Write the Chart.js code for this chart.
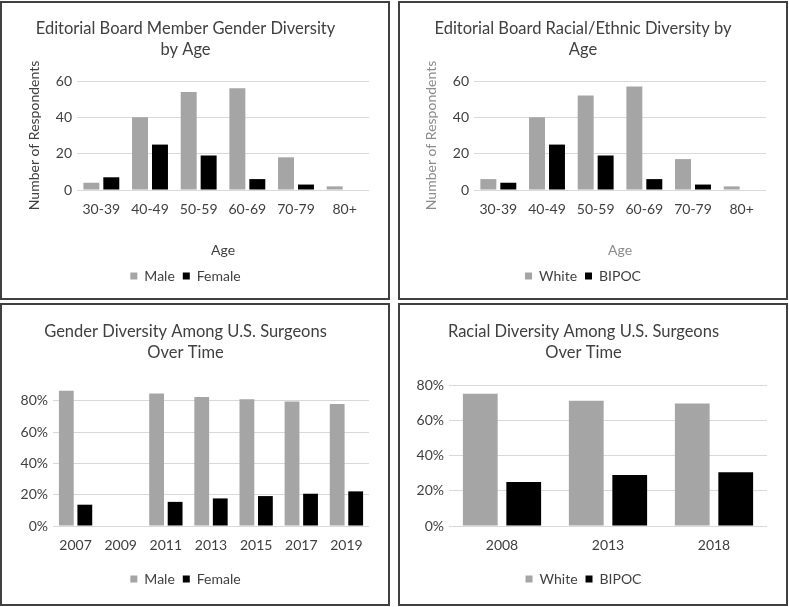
<!DOCTYPE html>
<html><head><meta charset="utf-8">
<script src="https://cdn.jsdelivr.net/npm/chart.js@4.4.1/dist/chart.umd.min.js"></script>
<style>
html,body{margin:0;padding:0;background:#fff;}
body{width:789px;height:607px;position:relative;overflow:hidden;}
.p{position:absolute;box-sizing:border-box;border:2px solid #404040;background:#fff;}
.p canvas{display:block;}
</style></head><body>
<div class="p" style="left:0;top:1px;width:390px;height:299px"><canvas id="c1" width="386" height="295"></canvas></div>
<div class="p" style="left:398px;top:1px;width:390px;height:299px"><canvas id="c2" width="386" height="295"></canvas></div>
<div class="p" style="left:0;top:303px;width:390px;height:303px"><canvas id="c3" width="386" height="299"></canvas></div>
<div class="p" style="left:398px;top:303px;width:390px;height:303px"><canvas id="c4" width="386" height="299"></canvas></div>
<script>
// ---- data ----
const ageCats = ['30-39','40-49','50-59','60-69','70-79','80+'];
const boardMale = [4,40,54,56,18,2];
const boardFemale = [7,25,19,6,3,0];
const boardWhite = [6,40,52,57,17,2];
const boardBIPOC = [4,25,19,6,3,0];
const genderYears = ['2007','2009','2011','2013','2015','2017','2019'];
const surgMale = [86.4,null,84.6,82.4,80.9,79.4,77.9];
const surgFemale = [13.6,null,15.4,17.6,19.1,20.6,22.1];
const raceYears = ['2008','2013','2018'];
const surgWhite = [75,71,69.5];
const surgBIPOC = [25,29,30.5];

const FF = 'Lato, "Open Sans", sans-serif';
const TXT = '#404040';
const GRAY = '#a5a5a5';
const BLACK = '#000000';

function build(id, o){
  const yScale = {
    min:0, max:o.yMax,
    ticks:{stepSize:o.yStep, font:{family:FF,size:14}, color:TXT, padding:5,
      callback:v=> o.pct ? v+'%' : v},
    grid:{color:'#d9d9d9', drawTicks:false},
    border:{display:false},
    afterFit:s=>{s.width=o.yW;},
    afterBuildTicks:s=>{ if(o.tickCap!==undefined){ s.ticks = s.ticks.filter(t=>t.value<=o.tickCap+1e-9); } }
  };
  if(o.yTitle){
    yScale.title={display:true,text:o.yTitle,font:{family:FF,size:14},color:o.axTitleColor||TXT,padding:{top:o.yTitlePad,bottom:0}};
  }
  const xScale = {
    grid:{display:false}, border:{display:false},
    ticks:{font:{family:FF,size:14}, color:TXT, padding:o.xPad},
    afterFit:s=>{s.height=o.xH;}
  };
  if(o.xTitle){
    xScale.title={display:true,text:o.xTitle,font:{family:FF,size:14},color:o.axTitleColor||TXT,padding:{top:0,bottom:o.xTitlePad}};
  }
  new Chart(document.getElementById(id),{
    type:'bar',
    data:{labels:o.labels, datasets:[
      {label:o.names[0], data:o.a, backgroundColor:GRAY, borderWidth:0, categoryPercentage:0.82, barPercentage:0.8},
      {label:o.names[1], data:o.b, backgroundColor:BLACK, borderWidth:0, categoryPercentage:0.82, barPercentage:0.8}
    ]},
    options:{
      responsive:false, animation:false,
      layout:{padding:{left:0,right:o.padR,top:0,bottom:o.padB}},
      plugins:{
        title:{display:true,text:o.title,font:{family:FF,size:16.5,weight:'normal',lineHeight:21/16.5},color:TXT,padding:{top:o.tTop,bottom:o.tBot}},
        legend:{position:'bottom',labels:{boxWidth:7,boxHeight:7,padding:8,font:{family:FF,size:14},color:TXT}},
        tooltip:{enabled:false}
      },
      scales:{x:xScale,y:yScale}
    }
  });
}

build('c1',{labels:ageCats,a:boardMale,b:boardFemale,names:['Male','Female'],
  title:['Editorial Board Member Gender Diversity','by Age'],
  yMax:60,yStep:20,pct:false,yTitle:'Number of Respondents',xTitle:'Age',
  yW:75,yTitlePad:24,padR:19,padB:5,xH:71,xPad:3,xTitlePad:2,tTop:15,tBot:21});
build('c2',{labels:ageCats,a:boardWhite,b:boardBIPOC,names:['White','BIPOC'],
  title:['Editorial Board Racial/Ethnic Diversity by','Age'],
  yMax:60,yStep:20,pct:false,yTitle:'Number of Respondents',xTitle:'Age',axTitleColor:'#8c8c8c',
  yW:74,yTitlePad:23,padR:20,padB:5,xH:71,xPad:3,xTitlePad:2,tTop:15,tBot:21});
build('c3',{labels:genderYears,a:surgMale,b:surgFemale,names:['Male','Female'],
  title:['Gender Diversity Among U.S. Surgeons','Over Time'],
  yMax:90,yStep:20,pct:true,tickCap:80,
  yW:51,padR:19,padB:8,xH:38,xPad:3,tTop:16,tBot:22});
build('c4',{labels:raceYears,a:surgWhite,b:surgBIPOC,names:['White','BIPOC'],
  title:['Racial Diversity Among U.S. Surgeons','Over Time'],
  yMax:80,yStep:20,pct:true,
  yW:49,padR:19,padB:8,xH:38,xPad:3,tTop:16,tBot:22});
</script>
</body></html>
